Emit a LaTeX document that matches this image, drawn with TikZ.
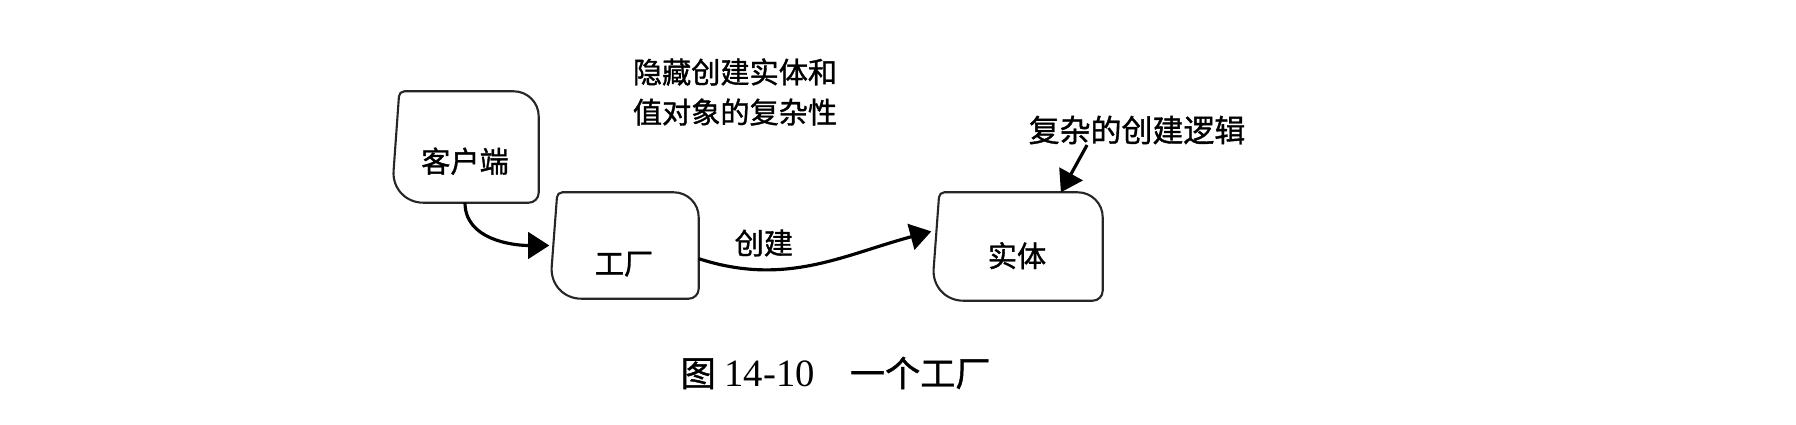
\documentclass[tikz,border=0pt]{standalone}
\usepackage{fontspec}
\setmainfont{Liberation Serif}
\newfontfamily\cjk{Noto Sans CJK SC}[FakeBold=1.2]
\usetikzlibrary{arrows.meta}
% contorno "dibujado a mano" de una caja con esquinas desiguales
\newcommand{\caja}[1]{%
  \draw[borde] (#1.north)
    [rounded corners=0.25cm] -- (#1.north east)
    [rounded corners=0.10cm] -- (#1.south east)
    [rounded corners=0.32cm] -- (#1.south west)
    [rounded corners=0.05cm] -- ([xshift=0.08cm]#1.north west)
    [sharp corners] -- (#1.north);}

\begin{document}
\begin{tikzpicture}
  % Definimos algunos estilos
  \tikzstyle{caja_txt}=[
    inner sep=0pt,
    text depth=0.06em,
    font=\cjk\fontsize{8.3}{10}\selectfont
  ]
  \tikzstyle{borde}=[line width=0.6pt, black!85]
  % flechas gruesas con punta triangular
  \tikzstyle{flecha}=[
    line width=0.9pt,
    -{Triangle[length=6pt, width=7.5pt]}
  ]
  \tikzstyle{texto}=[
    inner sep=0pt,
    align=left,
    font=\cjk\fontsize{8.3}{11.4}\selectfont
  ]

  \useasboundingbox (0,0) rectangle (17.96,4.24);

  % cliente
  \node[caja_txt, text height=1.5em, minimum width=1.46cm, minimum height=1.10cm] (cliente) at (4.65, 2.77) {客户端};
  \caja{cliente}

  % fabrica
  \node[caja_txt, text height=1.7em, minimum width=1.48cm, minimum height=1.05cm] (fabrica) at (6.24, 1.785) {工厂};
  \caja{fabrica}

  % entidad
  \node[caja_txt, text height=1.22em, minimum width=1.70cm, minimum height=1.07cm] (entidad) at (10.17, 1.775) {实体};
  \caja{entidad}

  % notas
  \node[texto] (oculta) at (7.35, 3.32) {隐藏创建实体和\\值对象的复杂性};
  \node[texto, font=\cjk\fontsize{8.8}{11}\selectfont] (logica) at (11.37, 2.94) {复杂的创建逻辑};

  % cliente -> fabrica
  \draw (cliente) edge[flecha, out=-90, in=180] (fabrica);

  % fabrica -> entidad
  \draw (fabrica.-10) edge[flecha, out=-18, in=195] node[auto, pos=0.27, font=\cjk\fontsize{8.3}{10}\selectfont] {创建} (entidad.170);

  % logica -> entidad
  \draw[flecha] ([xshift=0.59cm]logica.south west) -- (entidad.51);

  % pie de figura
  \node[anchor=west, inner sep=0pt, font=\fontsize{10}{12}\selectfont] (pie) at (6.80, 0.51)
    {{\cjk 图} {\fontsize{11}{12}\selectfont 14-10}\quad{\cjk 一个工厂}};
\end{tikzpicture}
\end{document}
